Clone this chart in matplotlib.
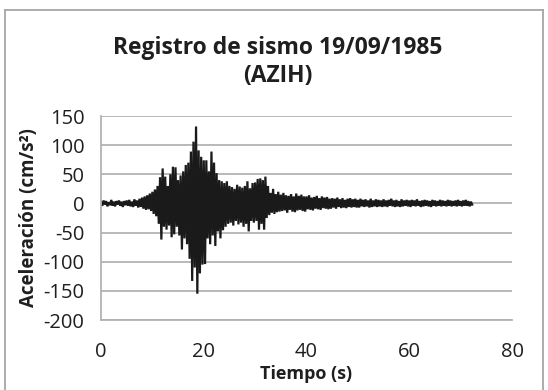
import numpy as np
import matplotlib
matplotlib.use("Agg")
import matplotlib.pyplot as plt
from matplotlib.lines import Line2D

dt = 0.25
acc_00_05 = [3, -4, 5, -2, 4, -5, 2, -3, 6, -4, 3, -5, 4, -2, 5, -4, 3, -6, 4, -3]
acc_05_10 = [5, -4, 6, -5, 3, -6, 7, -4, 5, -7, 8, -6, 10, -9, 12, -11, 14, -10, 17, -13]
acc_10_15 = [20, -18, 24, -22, 30, -35, 45, -62, 60, -40, 46, -45, 30, -38, 50, -58, 63, -53, 62, -40]
acc_15_20 = [40, -55, 48, -79, 55, -60, 66, -70, 70, -95, 89, -133, 106, -110, 132, -155, 91, -120, 80, -105]
acc_20_25 = [74, -104, 74, -60, 55, -70, 89, -55, 70, -73, 52, -48, 40, -60, 38, -46, 35, -40, 38, -35]
acc_25_30 = [30, -33, 28, -38, 25, -30, 32, -36, 29, -33, 27, -40, 30, -35, 38, -48, 26, -30, 35, -33]
acc_30_35 = [36, -30, 42, -45, 43, -35, 40, -45, 46, -25, 30, -20, 18, -16, 25, -18, 16, -15, 20, -14]
acc_35_40 = [15, -13, 18, -12, 14, -16, 13, -11, 16, -14, 12, -15, 17, -12, 13, -11, 15, -13, 12, -14]
acc_40_45 = [12, -10, 14, -11, 10, -12, 11, -9, 13, -10, 9, -11, 12, -8, 10, -9, 11, -10, 8, -9]
acc_45_50 = [9, -7, 8, -9, 10, -6, 7, -8, 9, -7, 6, -8, 8, -6, 9, -7, 7, -6, 8, -7]
acc_50_55 = [6, -7, 8, -5, 6, -6, 7, -5, 5, -7, 8, -6, 5, -5, 7, -6, 6, -5, 5, -6]
acc_55_60 = [7, -5, 5, -6, 6, -4, 8, -5, 5, -6, 6, -5, 4, -6, 7, -5, 5, -4, 6, -5]
acc_60_65 = [5, -6, 6, -4, 5, -5, 7, -4, 4, -6, 5, -5, 6, -4, 5, -5, 4, -6, 6, -4]
acc_65_70 = [5, -5, 4, -4, 6, -5, 5, -4, 4, -5, 6, -4, 5, -5, 4, -4, 5, -5, 6, -4]
acc_70_end = [4, -5, 5, -4, 6, -4, 4, -5, 3, -2]

x_ticks = [0, 20, 40, 60, 80]
y_ticks = [-200, -150, -100, -50, 0, 50, 100, 150]
title = "Registro de sismo 19/09/1985\n(AZIH)"
x_label = "Tiempo (s)"
y_label = "Aceleración (cm/s²)"

acc = np.array(acc_00_05 + acc_05_10 + acc_10_15 + acc_15_20 + acc_20_25 + acc_25_30
               + acc_30_35 + acc_35_40 + acc_40_45 + acc_45_50 + acc_50_55 + acc_55_60
               + acc_60_65 + acc_65_70 + acc_70_end, dtype=float)
t = np.arange(len(acc)) * dt

plt.rcParams['font.family'] = ['Open Sans', 'DejaVu Sans']
plt.rcParams['axes.unicode_minus'] = False
text_color = '#1f1f1f'
grid_color = '#b3b3b3'

fig = plt.figure(figsize=(5.48, 3.90), dpi=100)
ax = fig.add_axes([101/548, 1 - 320/390, 411/548, 204/390])

ax.plot(t, acc, color='#1a1a1a', lw=1.6, solid_joinstyle='miter')

ax.set_xlim(0, 80)
ax.set_ylim(-200, 150)
ax.set_xticks(x_ticks)
ax.set_yticks(y_ticks)
ax.yaxis.grid(True, color=grid_color, lw=1.3)
ax.set_axisbelow(True)
ax.tick_params(length=0, labelsize=14.5, colors=text_color)
ax.tick_params(axis='x', pad=16)
ax.tick_params(axis='y', pad=12)
for s in ['top', 'right']:
    ax.spines[s].set_visible(False)
for s in ['left', 'bottom']:
    ax.spines[s].set_color(grid_color)
    ax.spines[s].set_linewidth(1.3)

ax.set_xlabel(x_label, fontsize=13, fontweight='bold', color=text_color, labelpad=2)
ax.set_ylabel(y_label, fontsize=13.5, fontweight='bold', color=text_color, labelpad=3)
fig.text(0.507, 1 - 62/390, title, ha='center', va='center', fontsize=16.5,
         fontweight='bold', color=text_color, linespacing=1.2)

# chart border
bc = '#a6a6a6'
fig.add_artist(Line2D([5/548, 5/548], [0, 1 - 10/390], transform=fig.transFigure, color=bc, lw=1.3))
fig.add_artist(Line2D([5/548, 543/548], [1 - 10/390, 1 - 10/390], transform=fig.transFigure, color=bc, lw=1.3))
fig.add_artist(Line2D([543/548, 543/548], [0, 1 - 10/390], transform=fig.transFigure, color=bc, lw=1.3))

fig.savefig('out.png', dpi=100)
